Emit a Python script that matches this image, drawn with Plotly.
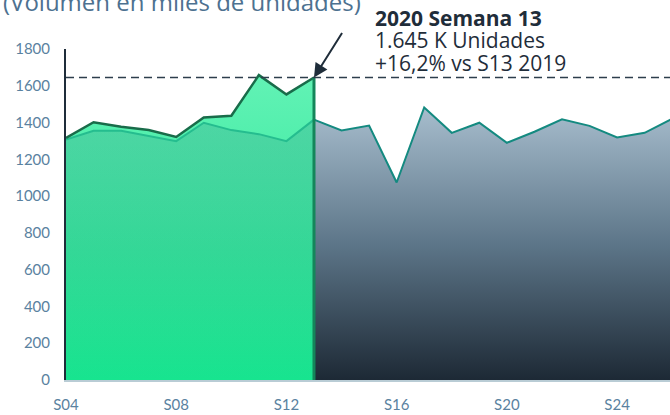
import plotly.graph_objects as go

weeks = list(range(4, 27))
tick_weeks = [4, 8, 12, 16, 20, 24]
tick_labels = ['S04', 'S08', 'S12', 'S16', 'S20', 'S24']

# volumen semanal en miles de unidades
v2019 = [1308, 1355, 1355, 1326, 1299, 1399, 1359, 1337, 1299, 1416,
         1357, 1384, 1074, 1482, 1344, 1399, 1290, 1350, 1418, 1382,
         1319, 1344, 1420]
v2020 = [1317, 1402, 1377, 1359, 1322, 1428, 1437, 1658, 1553, 1645]

n20 = len(v2020)
w20 = weeks[:n20]
last_week = w20[-1]
last_val = v2020[-1]

fig = go.Figure()

# 2019 desde la semana 13 (gris)
fig.add_trace(go.Scatter(
    x=weeks[n20 - 1:], y=v2019[n20 - 1:], mode='lines',
    line=dict(color='#148a80', width=2),
    fill='tozeroy',
    fillgradient=dict(type='vertical',
                      colorscale=[[0, '#1d2935'], [0.5, '#5d7689'], [1, '#a7bdcd']]),
    hoverinfo='skip', showlegend=False))

# 2020 (verde)
fig.add_trace(go.Scatter(
    x=w20, y=v2020, mode='lines',
    line=dict(color='rgba(0,0,0,0)', width=0),
    fill='tozeroy',
    fillgradient=dict(type='vertical',
                      colorscale=[[0, '#17e48f'], [1, '#62f2b5']]),
    hoverinfo='skip', showlegend=False))

# 2019 hasta la semana 13, sobre el verde
fig.add_trace(go.Scatter(
    x=w20, y=v2019[:n20], mode='lines',
    line=dict(color='#25bd8f', width=2),
    fill='tozeroy',
    fillgradient=dict(type='vertical',
                      colorscale=[[0, 'rgba(30,70,80,0)'], [0.5, 'rgba(30,80,90,0.12)'],
                                  [1, 'rgba(40,110,120,0.2)']]),
    hoverinfo='skip', showlegend=False))

# linea 2020
fig.add_trace(go.Scatter(
    x=w20, y=v2020, mode='lines',
    line=dict(color='#196c4a', width=2.5),
    hoverinfo='skip', showlegend=False))

# borde vertical en la ultima semana de 2020
fig.add_trace(go.Scatter(
    x=[last_week, last_week], y=[0, last_val], mode='lines',
    line=dict(color='#14865a', width=3),
    hoverinfo='skip', showlegend=False))

fig.add_shape(type='line', xref='paper', x0=0, x1=1, yref='y', y0=last_val, y1=last_val,
              line=dict(color='#2d3e4c', width=1.5, dash='8px,5px'))

# flecha + pequeño tramo horizontal
fig.add_annotation(x=last_week, y=last_val, xref='x', yref='y', text='',
                   showarrow=True, ax=29, ay=-46, arrowhead=2, arrowsize=1.4,
                   arrowwidth=2, arrowcolor='#1f2d3a', standoff=0)
fig.add_shape(type='line', xref='x', xsizemode='pixel', xanchor=last_week, x0=29, x1=38,
              yref='y', ysizemode='pixel', yanchor=last_val, y0=46, y1=46,
              line=dict(color='#1f2d3a', width=2))

ann_font = dict(family='Open Sans', size=21, color='#1f2d3a')
fig.add_annotation(xref='paper', yref='paper', x=0.508, y=1.094, xanchor='left', yanchor='middle',
                   text='<b>2020 Semana 13</b>', showarrow=False, font=ann_font)
fig.add_annotation(xref='paper', yref='paper', x=0.508, y=1.026, xanchor='left', yanchor='middle',
                   text='1.645 K Unidades', showarrow=False, font=ann_font)
fig.add_annotation(xref='paper', yref='paper', x=0.508, y=0.958, xanchor='left', yanchor='middle',
                   text='+16,2% vs S13 2019', showarrow=False, font=ann_font)

fig.add_annotation(xref='paper', yref='paper', x=-0.107, y=1.142, xanchor='left', yanchor='middle',
                   text='(Volumen en miles de unidades)', showarrow=False,
                   font=dict(family='Open Sans', size=24, color='#4d7190'))

fig.update_layout(
    width=670, height=415,
    margin=dict(l=66, r=0, t=49, b=35),
    paper_bgcolor='white', plot_bgcolor='white',
    font=dict(family='Lato', size=15, color='#5a82a0'),
)
fig.update_xaxes(range=[4, 25.92], tickvals=tick_weeks, ticktext=tick_labels,
                 showgrid=False, zeroline=False, showline=True,
                 linecolor='#b9ccd5', linewidth=2, ticks='', ticklabelstandoff=10)
fig.update_yaxes(range=[0, 1800], tickvals=list(range(0, 1801, 200)),
                 showgrid=False, zeroline=False, showline=True,
                 linecolor='#1f2d3a', linewidth=2, ticks='', ticklabelstandoff=11)

fig.write_html('out.html', config={'displayModeBar': False},
               post_script="document.body.style.margin='0';")
